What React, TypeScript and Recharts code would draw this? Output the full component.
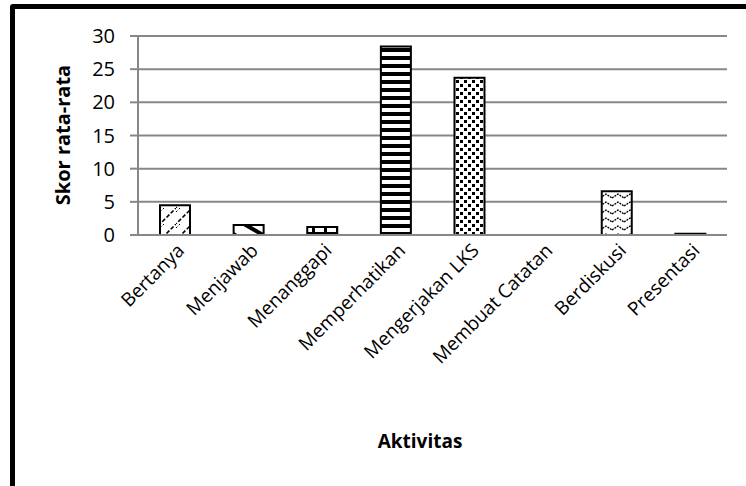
import React from 'react';
import { BarChart, Bar, XAxis, YAxis, CartesianGrid, Cell } from 'recharts';

const categories = [
  'Bertanya',
  'Menjawab',
  'Menanggapi',
  'Memperhatikan',
  'Mengerjakan LKS',
  'Membuat Catatan',
  'Berdiskusi',
  'Presentasi',
];
const scores = [4.5, 1.5, 1.2, 28.4, 23.7, 0, 6.6, 0.2];
const yTicks = [0, 5, 10, 15, 20, 25, 30];
const patternIds = ['pDiag', 'pBack', 'pBrick', 'pStripe', 'pDots', 'pNone', 'pWave', 'pSolid'];

const data = categories.map((c, i) => ({ name: c, value: scores[i] }));

const FONT = '"Open Sans", "DejaVu Sans", sans-serif';
const GRID = '#878787';

const XTick = (props: any) => {
  const { x, y, payload } = props;
  return (
    <g transform={`translate(${x + 6},${y + 12})`}>
      <text
        transform="rotate(-45)"
        textAnchor="end"
        dy="0.35em"
        fontSize={19}
        fontFamily={FONT}
        fill="#000"
      >
        {payload.value}
      </text>
    </g>
  );
};

const YTick = (props: any) => {
  const { x, y, payload } = props;
  return (
    <text x={x} y={y} dy="0.35em" textAnchor="end" fontSize={20} fontFamily={FONT} fill="#000">
      {payload.value}
    </text>
  );
};

export default function App() {
  return (
    <div
      style={{
        position: 'absolute',
        left: 0,
        top: 0,
        width: 746,
        height: 486,
        overflow: 'hidden',
        background: '#fff',
      }}
    >
      <div
        style={{
          position: 'absolute',
          left: 10,
          top: 4,
          width: 800,
          height: 540,
          border: '5px solid #000',
          borderRadius: 3,
        }}
      />
      <div style={{ position: 'absolute', left: 0, top: 0 }}>
        <BarChart
          width={746}
          height={486}
          data={data}
          margin={{ top: 36, right: 19, left: 0, bottom: 0 }}
          barSize={30}
        >
          <defs>
            <pattern id="pDiag" patternUnits="userSpaceOnUse" width="16" height="16">
              <rect width="16" height="16" fill="#fff" />
              <path d="M-2,18 L18,-2" stroke="#000" strokeWidth="1.6" strokeDasharray="4,2" />
              <path d="M0,4 L4,0" stroke="#000" strokeWidth="1" strokeDasharray="2,2" />
            </pattern>
            <pattern id="pBack" patternUnits="userSpaceOnUse" width="14" height="14" patternTransform="rotate(30)">
              <rect width="14" height="14" fill="#fff" />
              <rect x="0" y="0" width="14" height="4" fill="#000" />
            </pattern>
            <pattern id="pBrick" patternUnits="userSpaceOnUse" width="12" height="8">
              <rect width="12" height="8" fill="#fff" />
              <rect x="0" y="0" width="12" height="3" fill="#000" />
              <rect x="0" y="3" width="3" height="5" fill="#000" />
            </pattern>
            <pattern id="pStripe" patternUnits="userSpaceOnUse" width="8" height="8">
              <rect width="8" height="8" fill="#fff" />
              <rect x="0" y="0" width="8" height="4" fill="#000" />
            </pattern>
            <pattern id="pDots" patternUnits="userSpaceOnUse" width="8" height="8">
              <rect width="8" height="8" fill="#fff" />
              <rect x="0" y="0" width="3" height="3" fill="#000" />
              <rect x="4" y="4" width="3" height="3" fill="#000" />
            </pattern>
            <pattern id="pWave" patternUnits="userSpaceOnUse" width="12" height="8">
              <rect width="12" height="8" fill="#fff" />
              <path d="M0,6 L6,2 L12,6" stroke="#000" strokeWidth="1.3" fill="none" strokeDasharray="2,1" />
            </pattern>
            <pattern id="pNone" patternUnits="userSpaceOnUse" width="4" height="4">
              <rect width="4" height="4" fill="#fff" />
            </pattern>
            <pattern id="pSolid" patternUnits="userSpaceOnUse" width="4" height="4">
              <rect width="4" height="4" fill="#000" />
            </pattern>
          </defs>
          <CartesianGrid vertical={false} stroke={GRID} strokeWidth={2} />
          <XAxis
            dataKey="name"
            height={251}
            interval={0}
            tickLine={false}
            axisLine={{ stroke: GRID, strokeWidth: 2 }}
            tick={<XTick />}
            tickSize={0}
            tickMargin={0}
            label={() => (
              <text
                x={420}
                y={441}
                dy="0.35em"
                textAnchor="middle"
                fontSize={19}
                fontWeight="bold"
                fontFamily={FONT}
                fill="#000"
              >
                Aktivitas
              </text>
            )}
          />
          <YAxis
            width={138}
            domain={[0, 30]}
            ticks={yTicks}
            interval={0}
            tickSize={8}
            tickMargin={15}
            tickLine={{ stroke: GRID, strokeWidth: 2 }}
            axisLine={{ stroke: GRID, strokeWidth: 2 }}
            tick={<YTick />}
            label={() => (
              <text
                x={63}
                y={135}
                dy="0.35em"
                textAnchor="middle"
                transform="rotate(-90, 63, 135)"
                fontSize={20}
                fontWeight="bold"
                fontFamily={FONT}
                fill="#000"
              >
                Skor rata-rata
              </text>
            )}
          />
          <Bar dataKey="value" stroke="#000" strokeWidth={2} isAnimationActive={false}>
            {data.map((d, i) => (
              <Cell key={d.name} fill={`url(#${patternIds[i]})`} />
            ))}
          </Bar>
        </BarChart>
      </div>
    </div>
  );
}
